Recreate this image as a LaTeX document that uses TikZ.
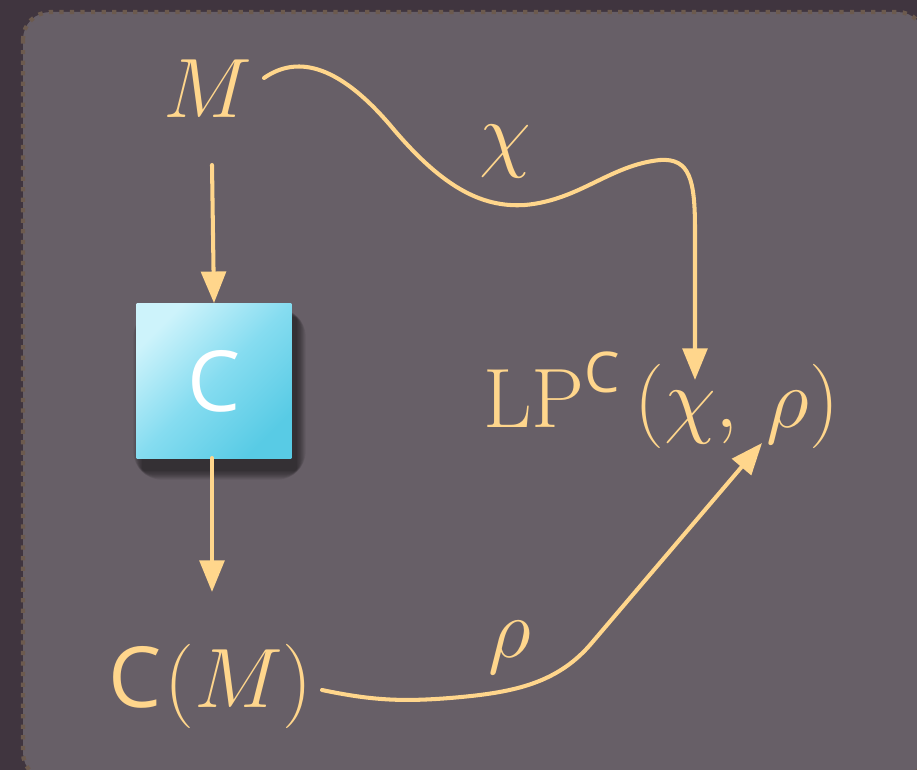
\RequirePackage{fix-cm}
\documentclass[tikz,border=0pt]{standalone}
\usepackage{fontspec}
\newfontfamily\sfc{Open Sans}
\usetikzlibrary{arrows.meta}
\definecolor{outerbg}{HTML}{40353F}
\definecolor{innerbg}{HTML}{675F67}
\definecolor{dotcol}{HTML}{6C5A4E}
\definecolor{gold}{HTML}{FFD68C}
\definecolor{cyanA}{HTML}{CDF3FB}
\definecolor{cyanB}{HTML}{85DCF0}
\definecolor{cyanC}{HTML}{58CBE5}
\tikzset{
  lbl/.style={text=gold, inner sep=0pt, font=\fontsize{48}{58}\selectfont},
  conn/.style={draw=gold, line width=2.3pt, line cap=round,
    -{Triangle[length=18pt,width=14pt]}},
  procbox/.style={minimum width=3.1cm, minimum height=3.1cm, inner sep=0pt,
    shading=axis, top color=cyanA, bottom color=cyanC, middle color=cyanB, shading angle=45,
    text=white, font=\fontsize{48}{58}\selectfont\sfc},
  shadowlayer/.style={fill=black, fill opacity=0.075, rounded corners=#1}
}
\begin{document}
\begin{tikzpicture}[x=0.02cm, y=-0.02cm]
\useasboundingbox (0,0) rectangle (917,770);
\fill[outerbg] (0,0) rectangle (917,770);
\begin{scope}
\clip (0,0) rectangle (917,770);
\filldraw[fill=innerbg, draw=dotcol, line width=2.4pt, dash pattern=on 2.4pt off 3.6pt, rounded corners=0.55cm]
  (23,12) rectangle (925,780);
\end{scope}
% soft shadow of the box
\foreach \r in {2,4,...,16}{
  \fill[shadowlayer=\r pt] (137+6-\r*0.6,304+14-\r*0.6) rectangle (292+4+\r*0.6,458+12+\r*0.6);
}
\node[lbl, anchor=base] (M) at (208,118) {$M$};
\node[procbox] (box) at (214,381) {C};
\node[lbl, anchor=base west] (CM) at (108,707) {{\sfc C}\kern1.5pt$(M)$};
\node[lbl, anchor=base west] (LP) at (483,428) {LP\raisebox{20pt}{\fontsize{32}{38}\selectfont\sfc C}$\,(\chi,\,\rho)$};
\coordinate (a1) at (212,165);
\coordinate (a2) at (212,458);
\coordinate (mStart) at (264,78);
\coordinate (cmStart) at (322,690);
\coordinate (chiTop) at (695,380);
\coordinate (rhoTip) at (762,443);
\draw[conn] (a1) -- (box.north);
\draw[conn] (a2) -- (212,592);
\draw[conn] (mStart) .. controls (290,60) and (330,55) .. (390,125)
  .. controls (440,185) and (480,208) .. (525,205)
  .. controls (580,200) and (610,165) .. (660,160)
  .. controls (690,158) and (695,180) .. (695,230) -- (chiTop);
\draw[conn] (cmStart) .. controls (370,700) and (400,702) .. (450,698)
  .. controls (510,693) and (555,685) .. (590,645) -- (rhoTip);
\node[lbl] (chi) at (505,152) {$\chi$};
\node[lbl] (rho) at (510,648) {$\rho$};
\end{tikzpicture}
\end{document}
